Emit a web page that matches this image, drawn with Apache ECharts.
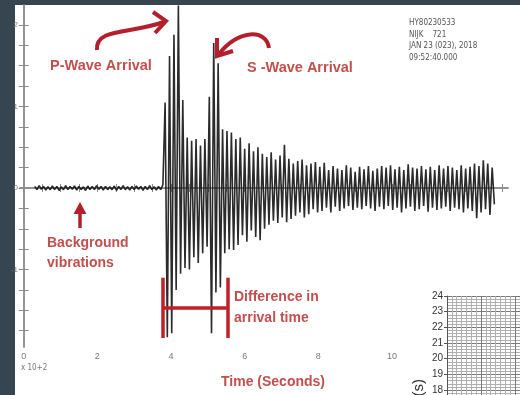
<!DOCTYPE html>
<html>
<head>
<meta charset="utf-8">
<script src="https://cdn.jsdelivr.net/npm/echarts@6/dist/echarts.min.js"></script>
<style>
  html, body { margin: 0; padding: 0; background: #36454f; }
  #paper { position: absolute; left: 15px; top: 5px; right: 0; bottom: 0; background: #fff; }
  #chart { position: absolute; left: 0; top: 0; width: 520px; height: 395px; }
</style>
</head>
<body>
<div id="paper"></div>
<div id="chart"></div>
<script>
// seismogram, time in units of x10^2, one sample every traceStep
const traceStart = 0.30;
const traceStep = 0.06;

const backgroundVibrations = [
  0.02, -0.02, 0.03, -0.015, 0.02, -0.025, 0.015, -0.02, 0.025, -0.02,
  0.02, -0.03, 0.015, -0.02, 0.03, -0.02, 0.02, -0.015, 0.025, -0.025,
  0.02, -0.02, 0.015, -0.03, 0.025, -0.02, 0.02, -0.02, 0.03, -0.015,
  0.02, -0.025, 0.02, -0.02, 0.015, -0.02, 0.025, -0.03, 0.02, -0.02,
  0.03, -0.02, 0.015, -0.025, 0.02, -0.02, 0.025, -0.015, 0.02, -0.03,
  0.02, -0.02, 0.03, -0.02, 0.015, -0.025, 0.02, -0.02, 0.04
];

const earthquakeSignal = [
  1.05, -1.83, 1.62, -1.78, 1.88, -1.25, 2.24, -1.05, 1.08, -0.98,
  0.62, -1.0, 0.58, -0.85, 0.6, -0.92, 0.52, -0.8, 0.6, -0.72,
  1.12, -1.78, 1.78, -1.28, 1.53, -1.22, 0.72, -0.8, 0.7, -0.75,
  0.68, -0.76, 0.6, -0.7, 0.62, -0.58, 0.48, -0.66, 0.55, -0.52,
  0.45, -0.6, 0.5, -0.64, 0.42, -0.5, 0.38, -0.45, 0.44, -0.4,
  0.35, -0.43, 0.4, -0.36, 0.53, -0.42, 0.36, -0.38, 0.3, -0.34,
  0.33, -0.3, 0.35, -0.36, 0.28, -0.32, 0.3, -0.26, 0.32, -0.3,
  0.26, -0.28, 0.31, -0.24, 0.22, -0.3, 0.27, -0.23, 0.24, -0.28,
  0.22, -0.25, 0.28, -0.22, 0.25, -0.27, 0.2, -0.24, 0.26, -0.26,
  0.23, -0.22, 0.27, -0.25, 0.21, -0.28, 0.24, -0.23, 0.27, -0.26,
  0.25, -0.22, 0.28, -0.27, 0.23, -0.24, 0.26, -0.3, 0.22, -0.25,
  0.29, -0.23, 0.25, -0.28, 0.24, -0.26, 0.27, -0.22, 0.23, -0.29,
  0.26, -0.24, 0.22, -0.27, 0.28, -0.25, 0.24, -0.23, 0.27, -0.28,
  0.25, -0.24, 0.22, -0.26, 0.28, -0.3, 0.24, -0.25, 0.26, -0.28,
  0.3, -0.37, 0.27, -0.3, 0.34, -0.26, 0.3, -0.33, 0.25, -0.2
];

const xTickLabels = [0, 2, 4, 6, 8, 10];
const yTickLabels = [-1, 0, 1, 2];
const arrivalMarks = [3.78, 5.54];         // P and S arrival
const bracketSpan = [-1.10, -1.84, -1.47]; // bar top, bar bottom, connector
const stationInfo = ['HY80230533', 'NIJK    721', 'JAN 23 (023), 2018', '09:52:40.000'];

const RED = '#c0504d';
const DARK_RED = '#b3202b';
const FRAME = '#8c8c8c';
const FONT = '"Liberation Sans", Arial, sans-serif';

const trace = backgroundVibrations.concat(earthquakeSignal)
  .map((v, i) => [+(traceStart + i * traceStep).toFixed(2), v]);

const xMinorTicks = Array.from({ length: 27 }, (_, i) => i * 0.5);
const yMinorTicks = Array.from({ length: 16 }, (_, i) => -1.75 + i * 0.25);

const chart = echarts.init(document.getElementById('chart'), null, { renderer: 'canvas' });

const frameAxis = {
  axisLine: { show: true, lineStyle: { color: FRAME, width: 1.5 } },
  splitLine: { show: false },
};

chart.setOption({
  animation: false,
  grid: [
    { left: 20, top: 5, right: 12, bottom: 48, outerBoundsMode: 'none' },
    { left: 447, top: 296, width: 102, height: 109.7, outerBoundsMode: 'none' },
  ],
  xAxis: [
    {
      ...frameAxis, type: 'value', gridIndex: 0, position: 'bottom', min: -0.1, max: 13.15,
      axisTick: { inside: true, length: 4, customValues: xMinorTicks, lineStyle: { color: FRAME } },
      axisLabel: { customValues: xTickLabels, color: '#777', fontSize: 9, margin: 5, fontFamily: FONT },
    },
    {
      ...frameAxis, type: 'value', gridIndex: 0, position: 'top', min: -0.1, max: 13.15,
      axisTick: { inside: true, length: 4, customValues: xMinorTicks, lineStyle: { color: FRAME } },
      axisLabel: { show: false },
    },
    {
      type: 'value', gridIndex: 1, min: 0, max: 30, interval: 10, z: 6,
      axisLine: { show: false },
      axisTick: { show: false }, axisLabel: { show: false },
      splitLine: { show: true, lineStyle: { color: '#7a7a7a', width: 1 } },
      minorTick: { show: false, splitNumber: 7 },
      minorSplitLine: { show: true, lineStyle: { color: '#b0b0b0', width: 1 } },
    },
  ],
  yAxis: [
    {
      ...frameAxis, type: 'value', gridIndex: 0, position: 'left', min: -1.95, max: 2.245,
      axisTick: { inside: true, length: 5, customValues: yMinorTicks, lineStyle: { color: FRAME } },
      axisLabel: { customValues: yTickLabels, color: '#777', fontSize: 8, margin: 2, fontFamily: FONT },
    },
    {
      ...frameAxis, type: 'value', gridIndex: 0, position: 'right', min: -1.95, max: 2.245,
      axisTick: { inside: true, length: 5, customValues: yMinorTicks, lineStyle: { color: FRAME } },
      axisLabel: { show: false },
    },
    {
      type: 'value', gridIndex: 1, min: 17, max: 24, interval: 1, z: 6,
      axisLine: { show: true, lineStyle: { color: '#555' } },
      axisTick: { show: true, length: 3, lineStyle: { color: '#555' } },
      axisLabel: { color: '#333', fontSize: 10, margin: 4, fontFamily: FONT },
      splitLine: { show: true, lineStyle: { color: '#7a7a7a', width: 1 } },
      minorTick: { show: false, splitNumber: 5 },
      minorSplitLine: { show: true, lineStyle: { color: '#b0b0b0', width: 1 } },
    },
  ],
  series: [
    {
      type: 'line',
      xAxisIndex: 0, yAxisIndex: 0,
      data: trace,
      showSymbol: false,
      lineStyle: { color: '#141414', width: 1.6, opacity: 0.9 },
      markLine: {
        silent: true,
        symbol: 'none',
        label: { show: false },
        lineStyle: { color: '#c0202a', width: 3.5, type: 'solid', opacity: 1 },
        data: [
          [{ coord: [arrivalMarks[0], bracketSpan[0]] }, { coord: [arrivalMarks[0], bracketSpan[1]] }],
          [{ coord: [arrivalMarks[1], bracketSpan[0]] }, { coord: [arrivalMarks[1], bracketSpan[1]] }],
          [{ coord: [arrivalMarks[0], bracketSpan[2]] }, { coord: [arrivalMarks[1], bracketSpan[2]] }],
        ],
      },
    },
  ],
  graphic: [
    // white panel of the inset chart in the lower right corner
    { type: 'rect', z: 5, shape: { x: 405, y: 284, width: 115, height: 111 }, style: { fill: '#fff' } },
    { type: 'text', z: 10, x: 419, y: 379, rotation: Math.PI / 2,
      style: { text: 'Time (s)', fill: '#333', font: '15px ' + FONT,
        textAlign: 'right', textVerticalAlign: 'middle' } },

    // arrows
    { type: 'bezierCurve', z: 10,
      shape: { x1: 97, y1: 50, cpx1: 95, cpy1: 28, cpx2: 130, cpy2: 34, x2: 164, y2: 22 },
      style: { stroke: DARK_RED, lineWidth: 4, fill: null } },
    { type: 'polyline', z: 10, shape: { points: [[153, 12], [166, 21], [155, 33]] },
      style: { stroke: DARK_RED, lineWidth: 4, fill: null } },
    { type: 'bezierCurve', z: 10,
      shape: { x1: 269, y1: 48, cpx1: 266, cpy1: 28, cpx2: 238, cpy2: 30, x2: 219, y2: 54 },
      style: { stroke: DARK_RED, lineWidth: 4, fill: null } },
    { type: 'polyline', z: 10, shape: { points: [[217, 38], [217, 56], [233, 51]] },
      style: { stroke: DARK_RED, lineWidth: 4, fill: null } },
    { type: 'line', z: 10, shape: { x1: 80, y1: 228, x2: 80, y2: 210 },
      style: { stroke: DARK_RED, lineWidth: 3.5 } },
    { type: 'polygon', z: 10, shape: { points: [[80, 202], [73.5, 214], [86.5, 214]] },
      style: { fill: DARK_RED } },

    // red annotation texts
    ...[
      ['P-Wave Arrival', 50, 66, 14.5],
      ['S -Wave Arrival', 247, 68, 14.5],
      ['Background', 47, 243, 14],
      ['vibrations', 47, 263, 14],
      ['Difference in', 234, 297, 14],
      ['arrival time', 234, 318, 14],
    ].map(([text, x, y, size]) => ({
      type: 'text', z: 10, x, y,
      style: { text, fill: RED, font: 'bold ' + size + 'px ' + FONT,
        textAlign: 'left', textVerticalAlign: 'middle' },
    })),
    { type: 'text', z: 10, x: 273, y: 382,
      style: { text: 'Time (Seconds)', fill: RED, font: 'bold 14px ' + FONT,
        textAlign: 'center', textVerticalAlign: 'middle' } },

    // gray record header and axis multiplier
    ...stationInfo.map((text, i) => ({
      type: 'text', z: 10, x: 409, y: 23 + i * 11.5,
      style: { text, fill: '#555', font: '8px "DejaVu Sans Condensed", "DejaVu Sans", sans-serif',
        textAlign: 'left', textVerticalAlign: 'middle' },
    })),
    { type: 'text', z: 10, x: 21, y: 368,
      style: { text: 'x 10+2', fill: '#777', font: '8px "DejaVu Sans Condensed", "DejaVu Sans", sans-serif',
        textAlign: 'left', textVerticalAlign: 'middle' } },
  ],
});

window.addEventListener('resize', () => chart.resize());
</script>
</body>
</html>
